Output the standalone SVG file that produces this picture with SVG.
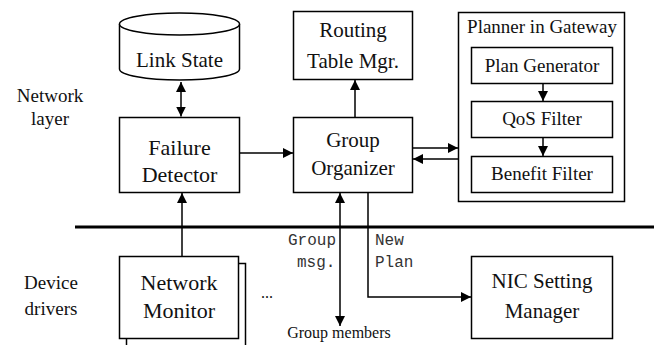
<svg xmlns="http://www.w3.org/2000/svg" width="654" height="345" viewBox="0 0 654 345" font-family="Liberation Serif, Times New Roman, serif">
<defs>
<marker id="ah" viewBox="0 0 10 10" refX="10" refY="5" markerWidth="10" markerHeight="10" markerUnits="userSpaceOnUse" orient="auto-start-reverse">
<path d="M0,0 L10,5 L0,10 z" fill="#000"/>
</marker>
</defs>
<style>
.box{fill:#fff;stroke:#000;stroke-width:1.5}
.t{fill:#111;text-anchor:middle}
.m{font-size:16px;fill:#333}
.c{fill:none;stroke:#000;stroke-width:1.5}
</style>
<rect width="654" height="345" fill="#fff"/>
<text class="t" x="50" y="102" font-size="19">Network</text>
<text class="t" x="50" y="125" font-size="19">layer</text>
<text class="t" x="51" y="289" font-size="19">Device</text>
<text class="t" x="51" y="315" font-size="19">drivers</text>
<line x1="75" y1="227" x2="654" y2="227" stroke="#000" stroke-width="3"/>

<g id="linkstate">
<path class="box" d="M119.5,24 L119.5,69 A60,11 0 0 0 239.5,69 L239.5,24"/>
<ellipse class="box" cx="179.5" cy="24" rx="60" ry="11"/>
<text class="t" x="179.5" y="67" font-size="21">Link State</text>
</g>
<g id="failure">
<rect class="box" x="119.5" y="117.5" width="120" height="75"/>
<text class="t" x="179.5" y="155" font-size="22">Failure</text>
<text class="t" x="179.5" y="182" font-size="22">Detector</text>
</g>
<g id="routing">
<rect class="box" x="293.5" y="11.5" width="119" height="68"/>
<text class="t" x="353" y="37" font-size="21">Routing</text>
<text class="t" x="353" y="68" font-size="21">Table Mgr.</text>
</g>
<g id="group">
<rect class="box" x="293.5" y="117.5" width="119" height="75"/>
<text class="t" x="353" y="147" font-size="21">Group</text>
<text class="t" x="353" y="175" font-size="21">Organizer</text>
</g>
<g id="planner">
<rect class="box" x="458.5" y="12.5" width="166" height="189"/>
<text class="t" x="542" y="33" font-size="19">Planner in Gateway</text>
</g>
<g id="plangen">
<rect class="box" x="471.5" y="47.5" width="141" height="36"/>
<text class="t" x="542" y="72" font-size="19">Plan Generator</text>
</g>
<g id="qos">
<rect class="box" x="471.5" y="101.5" width="141" height="36"/>
<text class="t" x="542" y="125" font-size="19">QoS Filter</text>
</g>
<g id="benefit">
<rect class="box" x="471.5" y="156.5" width="141" height="36"/>
<text class="t" x="542" y="180" font-size="19">Benefit Filter</text>
</g>
<g id="monitor">
<rect class="box" x="126.5" y="263.5" width="119" height="90"/>
<rect class="box" x="119.5" y="256.5" width="119" height="82"/>
<text class="t" x="179" y="290" font-size="22">Network</text>
<text class="t" x="179" y="318" font-size="22">Monitor</text>
</g>
<text class="t" x="267" y="298" font-size="16">...</text>
<g id="nic">
<rect class="box" x="471.5" y="256.5" width="141" height="82"/>
<text class="t" x="542" y="288" font-size="21">NIC Setting</text>
<text class="t" x="542" y="318" font-size="21">Manager</text>
</g>
<text class="t" x="339" y="338" font-size="16">Group members</text>
<g font-family="Liberation Mono, Courier New, monospace">
<text class="m" x="288" y="245">Group</text>
<text class="m" x="297" y="267">msg.</text>
<text class="m" x="375" y="245">New</text>
<text class="m" x="375" y="267">Plan</text>
</g>

<g id="connectors">
<line class="c" x1="181" y1="82" x2="181" y2="116.5" marker-start="url(#ah)" marker-end="url(#ah)"/>
<line class="c" x1="239.5" y1="153" x2="293" y2="153" marker-end="url(#ah)"/>
<line class="c" x1="355" y1="117.5" x2="355" y2="80" marker-end="url(#ah)"/>
<line class="c" x1="412.5" y1="148" x2="458" y2="148" marker-end="url(#ah)"/>
<line class="c" x1="458.5" y1="159" x2="413" y2="159" marker-end="url(#ah)"/>
<line class="c" x1="543" y1="83.5" x2="543" y2="101" marker-end="url(#ah)"/>
<line class="c" x1="543" y1="137.5" x2="543" y2="156" marker-end="url(#ah)"/>
<line class="c" x1="182" y1="256.5" x2="182" y2="193" marker-end="url(#ah)"/>
<line class="c" x1="340" y1="193" x2="340" y2="326" marker-start="url(#ah)" marker-end="url(#ah)"/>
<polyline class="c" points="368,192.5 368,297 471,297" marker-end="url(#ah)"/>
</g>
</svg>
